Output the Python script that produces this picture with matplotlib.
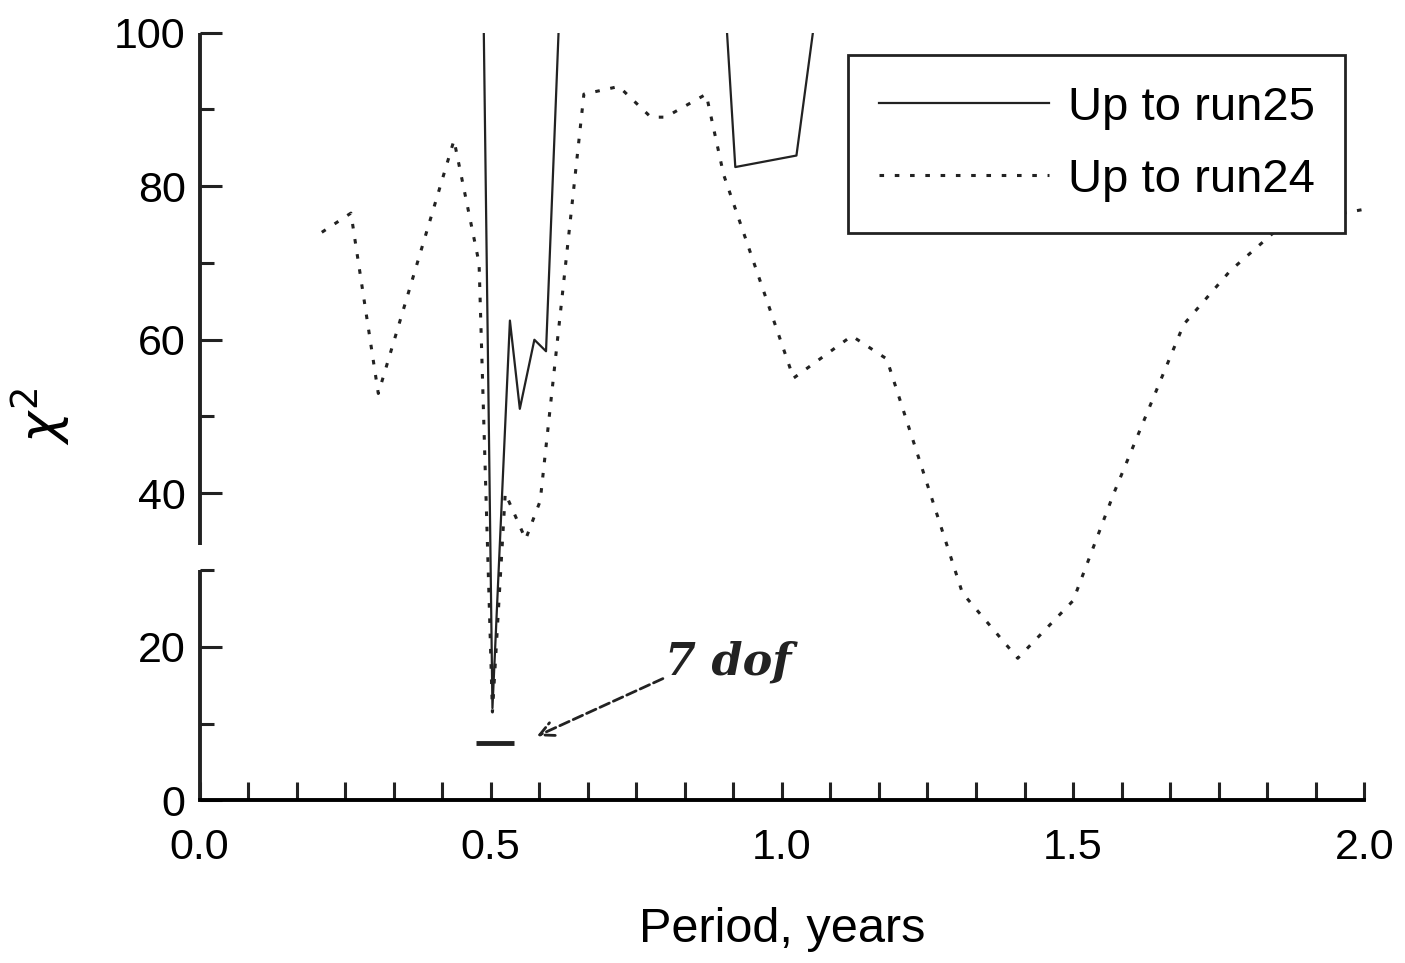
import numpy as np
import matplotlib
matplotlib.use("Agg")
import matplotlib.pyplot as plt
from matplotlib.ticker import MultipleLocator

plt.rcParams['font.family'] = ['Liberation Sans', 'DejaVu Sans']

# chi^2 vs trial period
period_24 = [0.21, 0.26, 0.307, 0.437, 0.48, 0.503, 0.525, 0.56, 0.585, 0.66, 0.72,
             0.775, 0.80, 0.87, 0.90, 1.02, 1.12, 1.18, 1.31, 1.405, 1.50, 1.57,
             1.69, 1.77, 1.86, 2.0]
chi2_24 = [74, 76.5, 53, 86, 70, 11.5, 40, 34, 39, 92, 93,
           89, 89, 92, 81.5, 55, 60.5, 57.5, 27, 18.5, 26, 40,
           62, 69, 75, 77]

period_25 = [0.488, 0.503, 0.533, 0.55, 0.575, 0.595, 0.617, np.nan, 0.905, 0.92, 1.025, 1.055]
chi2_25 = [101, 12, 62.5, 51, 60, 58.5, 101, np.nan, 101, 82.5, 84, 101]

dof_x = [0.474, 0.54]
dof_y = 7.5

fig = plt.figure(figsize=(14.05, 9.63), dpi=100)
ax = fig.add_axes([0.142, 0.169, 0.829, 0.797])

ax.plot(period_25, chi2_25, color='#222222', lw=1.6, label='Up to run25')
ax.plot(period_24, chi2_24, color='#222222', lw=2.2, dashes=(1.5, 3.5), label='Up to run24')

ax.hlines(dof_y, dof_x[0], dof_x[1], color='#222222', lw=3.5)
ax.annotate('', xy=(0.575, 8.2), xytext=(0.80, 16),
            arrowprops=dict(arrowstyle='->', ls='--', lw=2, color='#222222',
                            mutation_scale=25))
ax.text(0.80, 18, '7 dof', fontsize=32, fontstyle='italic', fontweight='bold',
        family='DejaVu Serif', ha='left', va='center', color='#222222')

ax.set_xlim(0, 2.0)
ax.set_ylim(0, 100)
ax.xaxis.set_major_locator(MultipleLocator(0.5))
ax.xaxis.set_minor_locator(MultipleLocator(1 / 12))
ax.yaxis.set_major_locator(MultipleLocator(20))
ax.yaxis.set_minor_locator(MultipleLocator(10))
ax.xaxis.set_major_formatter(matplotlib.ticker.FormatStrFormatter('%.1f'))

for s in ['top', 'right', 'left']:
    ax.spines[s].set_visible(False)
ax.spines['bottom'].set_linewidth(2.8)

# left spine with a small break between 30 and 33
ax.plot([0, 0], [0, 30], transform=ax.get_yaxis_transform(), color='#222222',
        lw=2.8, clip_on=False, solid_capstyle='butt')
ax.plot([0, 0], [33.3, 100], transform=ax.get_yaxis_transform(), color='#222222',
        lw=2.8, clip_on=False, solid_capstyle='butt')

ax.tick_params(axis='both', which='both', direction='in', width=2.2, color='#222222',
               labelsize=31, pad=10)
ax.tick_params(axis='y', which='major', length=16)
ax.tick_params(axis='y', which='minor', length=10)
ax.tick_params(axis='x', which='both', length=13)
ax.tick_params(axis='x', which='major', pad=20)

ax.set_xlabel('Period, years', fontsize=35, labelpad=28)
ax.set_ylabel(r'$\chi^2$', fontsize=38, labelpad=30)

leg = ax.legend(loc='upper right', bbox_to_anchor=(1.004, 1.002), fontsize=34,
                frameon=True, fancybox=False, edgecolor='#222222', framealpha=1,
                handlelength=3.6, handletextpad=0.4, borderpad=0.65, labelspacing=0.6)
leg.get_frame().set_linewidth(2)

fig.savefig('out.png', dpi=100)
